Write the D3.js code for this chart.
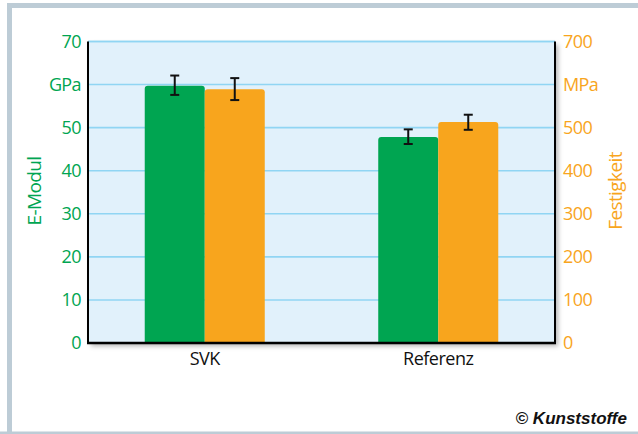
<!DOCTYPE html>
<html>
<head>
<meta charset="utf-8">
<script src="https://cdn.jsdelivr.net/npm/d3@7"></script>
<style>
  body { margin: 0; background: #fff; }
  svg { display: block; }
  svg text { font-family: "Open Sans", sans-serif; }
</style>
</head>
<body>
<div id="chart"></div>
<script>
// values
var categories = ["SVK", "Referenz"];
var modulus = [59.7, 47.8];            // E-Modul, GPa
var modulusErr = [[57.6, 62.1], [46.2, 49.6]];
var strength = [589, 513];             // Festigkeit, MPa
var strengthErr = [[564, 615], [495, 530]];
var leftTicks = [0, 10, 20, 30, 40, 50, 60, 70];
var rightTicks = [0, 100, 200, 300, 400, 500, 600, 700];

var svgWidth = 638, svgHeight = 434;
var margin = {top: 41.5, right: 83, bottom: 91, left: 88};
var width = svgWidth - margin.left - margin.right;
var height = svgHeight - margin.top - margin.bottom;

var green = "#00a551", orange = "#f8a51d";

var svg = d3.select("#chart").append("svg")
    .attr("width", svgWidth)
    .attr("height", svgHeight);

var defs = svg.append("defs");
var f = defs.append("filter").attr("id", "shadow")
    .attr("x", "-5%").attr("y", "-5%").attr("width", "115%").attr("height", "115%");
f.append("feDropShadow").attr("dx", 3).attr("dy", 3).attr("stdDeviation", 2.5)
    .attr("flood-color", "#000").attr("flood-opacity", 0.3);
defs.append("clipPath").attr("id", "plotclip")
    .append("rect").attr("width", width).attr("height", height);

// outer frame
svg.append("rect").attr("x", 7).attr("y", 3).attr("width", 640).attr("height", 429)
    .attr("fill", "#fff").attr("stroke", "#bdccd6").attr("stroke-width", 5)
    .attr("transform", "translate(2.5,2.5)");
svg.append("rect").attr("x", 0).attr("y", 431.5).attr("width", svgWidth).attr("height", 3)
    .attr("fill", "#bdccd6");

var chart = svg.append("g")
    .attr("transform", "translate(" + margin.left + "," + margin.top + ")");

var yLeft = d3.scaleLinear().domain([0, 70]).range([height, 0]);
var yRight = d3.scaleLinear().domain([0, 700]).range([height, 0]);
var x0 = d3.scaleBand().domain(categories).range([0, width])
    .paddingInner(0.486).paddingOuter(0.243);
var x1 = d3.scaleBand().domain(["E", "F"]).range([0, x0.bandwidth()]);

chart.append("rect").attr("width", width).attr("height", height)
    .attr("fill", "#e1f1fb").attr("filter", "url(#shadow)");

chart.append("g").selectAll("line")
    .data(leftTicks.filter(function(t) { return t > 0; }))
    .enter().append("line")
    .attr("x1", 0).attr("x2", width)
    .attr("y1", function(d) { return yLeft(d); })
    .attr("y2", function(d) { return yLeft(d); })
    .attr("stroke", "#90d5f3").attr("stroke-width", 1.6);

var bars = chart.append("g").attr("clip-path", "url(#plotclip)");
var rows = categories.map(function(c, i) {
    return [
        {cat: c, key: "E", y: yLeft(modulus[i]), lo: yLeft(modulusErr[i][0]), hi: yLeft(modulusErr[i][1]), color: green},
        {cat: c, key: "F", y: yRight(strength[i]), lo: yRight(strengthErr[i][0]), hi: yRight(strengthErr[i][1]), color: orange}
    ];
}).flat();

bars.selectAll("rect")
    .data(rows)
    .enter().append("rect")
    .attr("x", function(d) { return x0(d.cat) + x1(d.key); })
    .attr("y", function(d) { return d.y; })
    .attr("width", x1.bandwidth())
    .attr("height", function(d) { return height - d.y + 4; })
    .attr("rx", 3)
    .attr("fill", function(d) { return d.color; });

// error bars
var err = chart.append("g").attr("stroke", "#111").attr("stroke-width", 2);
rows.forEach(function(d) {
    var cx = x0(d.cat) + x1(d.key) + x1.bandwidth() / 2;
    err.append("line").attr("x1", cx).attr("x2", cx).attr("y1", d.lo).attr("y2", d.hi);
    err.append("line").attr("x1", cx - 4.5).attr("x2", cx + 4.5).attr("y1", d.lo).attr("y2", d.lo);
    err.append("line").attr("x1", cx - 4.5).attr("x2", cx + 4.5).attr("y1", d.hi).attr("y2", d.hi);
});

// frame lines
chart.append("line").attr("x1", 0).attr("x2", width).attr("y1", 0).attr("y2", 0)
    .attr("stroke", "#90d5f3").attr("stroke-width", 1.6);
chart.append("line").attr("x1", 0).attr("x2", 0).attr("y1", 0).attr("y2", height)
    .attr("stroke", "#000").attr("stroke-width", 2);
chart.append("line").attr("x1", width).attr("x2", width).attr("y1", 0).attr("y2", height)
    .attr("stroke", "#000").attr("stroke-width", 2);
chart.append("line").attr("x1", -1).attr("x2", width + 1).attr("y1", height).attr("y2", height)
    .attr("stroke", "#000").attr("stroke-width", 2.5);

// axes
var leftAxis = d3.axisLeft(yLeft).tickValues(leftTicks).tickSize(0).tickPadding(7)
    .tickFormat(function(d) { return d === 60 ? "GPa" : d; });
var rightAxis = d3.axisRight(yRight).tickValues(rightTicks).tickSize(0).tickPadding(8)
    .tickFormat(function(d) { return d === 600 ? "MPa" : d; });
var bottomAxis = d3.axisBottom(x0).tickSize(0).tickPadding(9);

var gl = chart.append("g").call(leftAxis);
gl.select(".domain").remove();
gl.selectAll("text").attr("fill", green).style("font-size", "18px").attr("letter-spacing", "-0.6px");

var gr = chart.append("g").attr("transform", "translate(" + width + ",0)").call(rightAxis);
gr.select(".domain").remove();
gr.selectAll("text").attr("fill", orange).style("font-size", "18px").attr("letter-spacing", "-0.6px");

var gb = chart.append("g").attr("transform", "translate(0," + height + ")").call(bottomAxis);
gb.select(".domain").remove();
gb.selectAll("text").attr("fill", "#111").style("font-size", "18px").attr("letter-spacing", "-0.5px");

// axis titles
svg.append("text")
    .attr("transform", "translate(41,191) rotate(-90)")
    .attr("text-anchor", "middle")
    .attr("fill", green).style("font-size", "19px").attr("letter-spacing", "-0.6px")
    .text("E-Modul");
svg.append("text")
    .attr("transform", "translate(622,191) rotate(-90)")
    .attr("text-anchor", "middle")
    .attr("fill", orange).style("font-size", "19px").attr("letter-spacing", "-0.6px")
    .text("Festigkeit");

svg.append("text")
    .attr("x", 627).attr("y", 424)
    .attr("text-anchor", "end")
    .style("font-family", "'Liberation Sans Narrow', 'Liberation Sans', sans-serif")
    .style("font-size", "17px").style("font-weight", "bold").style("font-style", "italic")
    .attr("fill", "#111")
    .text("© Kunststoffe");
</script>
</body>
</html>
